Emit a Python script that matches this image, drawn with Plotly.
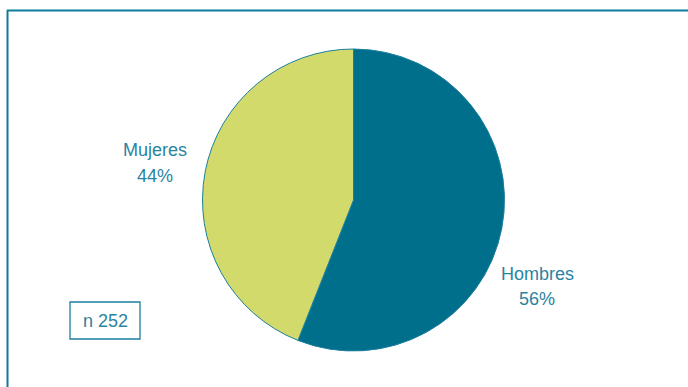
import plotly.graph_objects as go

labels = ["Hombres", "Mujeres"]
values = [56, 44]
colors = ["#006F8C", "#D3DA6C"]
n_text = "n 252"

W, H = 688, 387
TEAL_TXT = "#2A84A0"

fig = go.Figure()
fig.add_trace(go.Pie(
    labels=labels, values=values, sort=False, direction="clockwise",
    rotation=0, textinfo="none", hoverinfo="label+percent",
    marker=dict(colors=colors, line=dict(color="#1B7E9E", width=1)),
    domain=dict(x=[202/W, 505/W], y=[(H-351)/H, (H-49)/H]),
    showlegend=False,
))

def px(x): return x / W
def py(y): return 1 - y / H

font = dict(family="Liberation Sans, Arial, sans-serif", size=18, color=TEAL_TXT)
pos = {"Mujeres": (155, 150, 176), "Hombres": (537, 274, 299)}
for lab, val in zip(labels, values):
    x, y1, y2 = pos[lab]
    fig.add_annotation(x=px(x), y=py(y1), xref="paper", yref="paper",
                       text=lab, showarrow=False, font=font,
                       xanchor="center", yanchor="middle")
    fig.add_annotation(x=px(x), y=py(y2), xref="paper", yref="paper",
                       text=f"{val}%", showarrow=False, font=font,
                       xanchor="center", yanchor="middle")

fig.add_annotation(x=px(105), y=py(321), xref="paper", yref="paper",
                   text=n_text, showarrow=False, font=font,
                   xanchor="center", yanchor="middle")
fig.add_shape(type="rect", xref="paper", yref="paper",
              x0=px(70), x1=px(140), y0=py(339), y1=py(302),
              line=dict(color="#1B7E9E", width=1.3))

# frame
fig.add_shape(type="line", xref="paper", yref="paper",
              x0=px(7), x1=px(690), y0=py(10.5), y1=py(10.5),
              line=dict(color="#0E7C9C", width=2))
fig.add_shape(type="line", xref="paper", yref="paper",
              x0=px(7.5), x1=px(7.5), y0=py(10), y1=py(390),
              line=dict(color="#0E7C9C", width=2))

fig.update_layout(width=W, height=H, margin=dict(l=0, r=0, t=0, b=0),
                  paper_bgcolor="white", plot_bgcolor="white")
fig.write_html("out.html")
